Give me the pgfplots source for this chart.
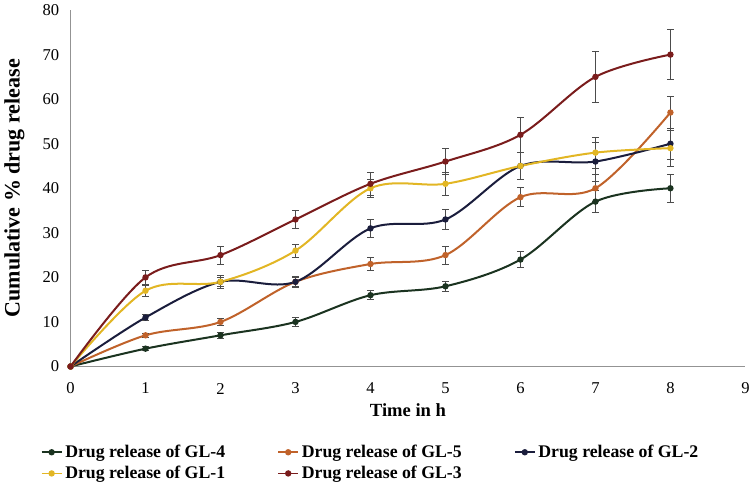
\documentclass[border=0pt]{standalone}
\usepackage{pgfplots}
\pgfplotsset{compat=1.18}
\usepackage{fontspec}
\setmainfont{Liberation Serif}
\definecolor{cgl4}{HTML}{1B3320}
\definecolor{cgl5}{HTML}{C0622A}
\definecolor{cgl2}{HTML}{1A1D3C}
\definecolor{cgl1}{HTML}{E2B624}
\definecolor{cgl3}{HTML}{7A1C1C}
\begin{document}
\begin{tikzpicture}
\begin{axis}[
  scale only axis,
  width=505.5pt, height=267pt,
  xmin=0, xmax=9, ymin=0, ymax=80,
  xtick={0,...,9}, ytick={0,10,...,80},
  axis lines*=left,
  x axis line style={draw=gray!85, line width=1.4pt},
  y axis line style={draw=gray!85, line width=0.6pt},
  major tick length=0pt,
  tick style={draw=none},
  x tick label style={anchor=center, yshift=-16.5pt},
  y tick label style={xshift=-5pt},
  tick label style={font=\fontsize{12.4}{14}\selectfont},
  /pgf/number format/assume math mode=true,
  xlabel={\textbf{Time in h}},
  ylabel={\textbf{Cumulative \% drug release}},
  xlabel style={font=\fontsize{13.9}{16}\selectfont, at={(axis description cs:0.5,-0.1236)}, anchor=center},
  ylabel style={font=\fontsize{16.5}{18}\selectfont, at={(axis description cs:-0.083,0.5)}, anchor=center},
  legend columns=3,
  legend style={at={(axis description cs:0.445,-0.212)}, anchor=north, draw=none, fill=none,
    font=\bfseries\fontsize{13.3}{15}\selectfont, inner sep=0pt,
    /tikz/every even column/.append style={column sep=37pt}, row sep=1pt},
  legend cell align=left,
  legend image code/.code={\draw[#1, line width=1.4pt] (0pt,0pt) -- (15pt,0pt); \fill[#1] (7.5pt,0pt) circle (1.6pt);},
  every axis plot/.append style={smooth, tension=0.55, line width=1.5pt, mark=*, mark size=1.6pt},
  error bars/y dir=both, error bars/y explicit,
  error bars/error bar style={black!70, line width=0.6pt},
  error bars/error mark options={rotate=90, mark size=2.4pt, black!70, line width=0.6pt},
]
\addplot[color=cgl4, mark options={fill=cgl4}] coordinates {
 (0,0) +- (0,0) (1,4) +- (0,0.5) (2,7) +- (0,0.7) (3,10) +- (0,1) (4,16) +- (0,1) (5,18) +- (0,1.2) (6,24) +- (0,1.8) (7,37) +- (0,2.5) (8,40) +- (0,3.1)};
\addlegendentry{Drug release of GL-4}
\addplot[color=cgl5, mark options={fill=cgl5}] coordinates {
 (0,0) +- (0,0) (1,7) +- (0,0.5) (2,10) +- (0,0.8) (3,19) +- (0,1) (4,23) +- (0,1.5) (5,25) +- (0,2) (6,38) +- (0,2.1) (7,40) +- (0,3) (8,57) +- (0,3.6)};
\addlegendentry{Drug release of GL-5}
\addplot[color=cgl2, mark options={fill=cgl2}] coordinates {
 (0,0) +- (0,0) (1,11) +- (0,0.7) (2,19) +- (0,1.4) (3,19) +- (0,1.2) (4,31) +- (0,2) (5,33) +- (0,2.2) (6,45) +- (0,3) (7,46) +- (0,4.4) (8,50) +- (0,3.5)};
\addlegendentry{Drug release of GL-2}
\addplot[color=cgl1, mark options={fill=cgl1}] coordinates {
 (0,0) +- (0,0) (1,17) +- (0,1.3) (2,19) +- (0,1) (3,26) +- (0,1.5) (4,40) +- (0,2) (5,41) +- (0,2.5) (6,45) +- (0,3) (7,48) +- (0,3.5) (8,49) +- (0,4)};
\addlegendentry{Drug release of GL-1}
\addplot[color=cgl3, mark options={fill=cgl3}] coordinates {
 (0,0) +- (0,0) (1,20) +- (0,1.5) (2,25) +- (0,2) (3,33) +- (0,2) (4,41) +- (0,2.5) (5,46) +- (0,3) (6,52) +- (0,4) (7,65) +- (0,5.7) (8,70) +- (0,5.6)};
\addlegendentry{Drug release of GL-3}
\end{axis}
\end{tikzpicture}
\end{document}
